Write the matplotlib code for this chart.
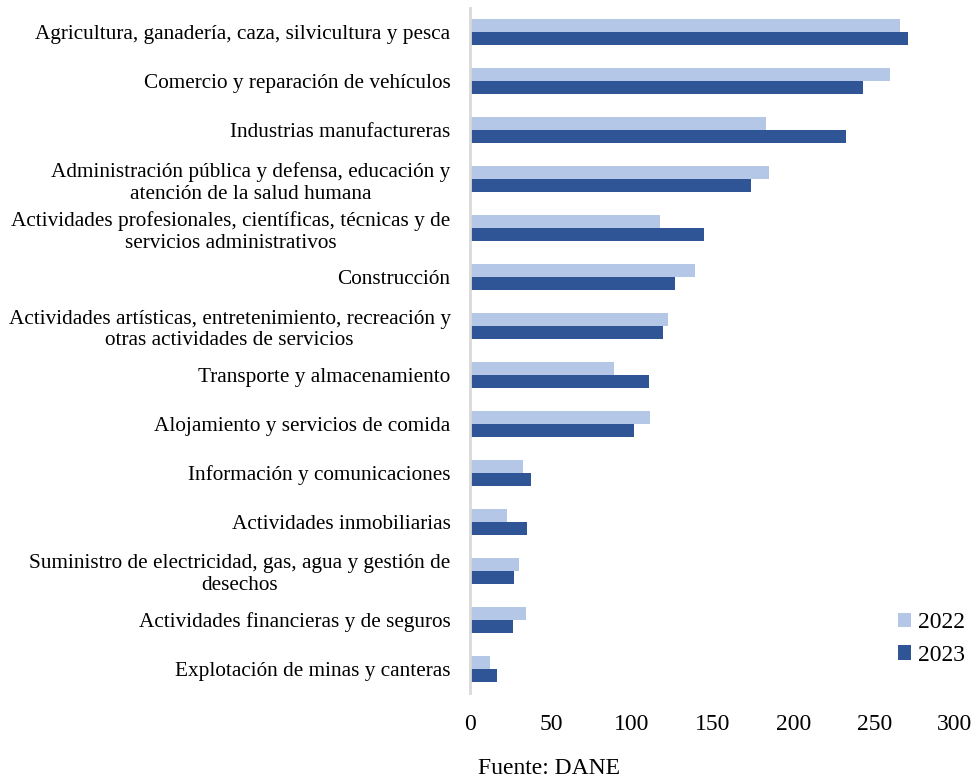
import matplotlib
matplotlib.use("Agg")
import matplotlib.pyplot as plt
import numpy as np

categories = [
    "Agricultura, ganadería, caza, silvicultura y pesca",
    "Comercio y reparación de vehículos",
    "Industrias manufactureras",
    "Administración pública y defensa, educación y\natención de la salud humana",
    "Actividades profesionales, científicas, técnicas y de\nservicios administrativos",
    "Construcción",
    "Actividades artísticas, entretenimiento, recreación y\notras actividades de servicios",
    "Transporte y almacenamiento",
    "Alojamiento y servicios de comida",
    "Información y comunicaciones",
    "Actividades inmobiliarias",
    "Suministro de electricidad, gas, agua y gestión de\ndesechos",
    "Actividades financieras y de seguros",
    "Explotación de minas y canteras",
]
values_2022 = [266, 260, 183, 185, 117.5, 139, 122.5, 89, 111.5, 33, 23, 30, 34.5, 12.5]
values_2023 = [271, 243, 232.5, 174, 145, 126.5, 119.5, 110.5, 101.5, 38, 35, 27.5, 26.5, 16.5]
series_labels = ["2022", "2023"]
xticks = [0, 50, 100, 150, 200, 250, 300]
source = "Fuente: DANE"

plt.rcParams['font.family'] = ['Liberation Serif', 'DejaVu Serif']

fig = plt.figure(figsize=(9.76, 7.8), dpi=100)
ax = fig.add_axes([470/976, 1-693/780, (955-470)/976, (693-8)/780])

y = np.arange(len(categories))
h = 0.265
c22 = "#b4c7e7"
c23 = "#2f5597"
ax.barh(y - h/2, values_2022, height=h, color=c22, label=series_labels[0])
ax.barh(y + h/2, values_2023, height=h, color=c23, label=series_labels[1])

ax.set_ylim(len(categories) - 0.5, -0.5)
ax.set_xlim(0, 300)
ax.set_xticks(xticks)
ax.set_xticklabels([str(t) for t in xticks], fontsize=17)
ax.set_yticks(y)
ax.set_yticklabels(categories, fontsize=15.3, multialignment='center', linespacing=1.18)
ax.tick_params(axis='y', length=0, pad=14)
ax.tick_params(axis='x', length=0, pad=15)
for s in ['top', 'right', 'bottom']:
    ax.spines[s].set_visible(False)
ax.spines['left'].set_color('#d9d9d9')
ax.spines['left'].set_linewidth(2)

fig.legend(loc='center left', bbox_to_anchor=(886/976, 1-639/780), frameon=False,
           fontsize=17, handlelength=0.55, handleheight=0.55, handletextpad=0.3,
           labelspacing=0.5, borderpad=0)

fig.text(549/976, 1-768/780, source, ha='center', va='center', fontsize=17)

fig.savefig("out.png", dpi=100)
